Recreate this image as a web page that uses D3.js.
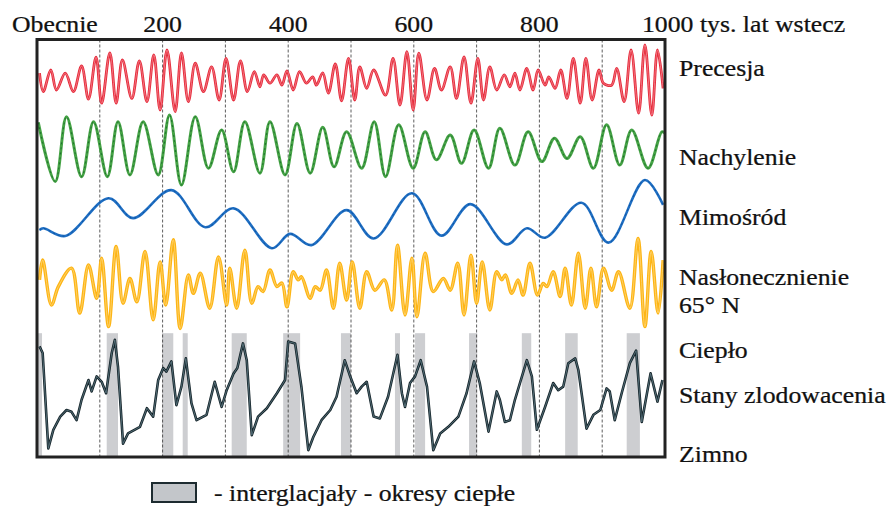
<!DOCTYPE html>
<html>
<head>
<meta charset="utf-8">
<script src="https://cdn.jsdelivr.net/npm/d3@7"></script>
<style>
  body { margin: 0; background: #fff; }
  svg text { font-family: "Liberation Serif", "Times New Roman", serif; fill: #111; stroke: #111; stroke-width: 0.25px; }
</style>
</head>
<body>
<div id="chart"></div>
<script>
// [tys. lat wstecz, wartość względna]
var precesja = [[4,0.22],[10,-0.24],[22,0.30],[31,-0.20],[45,0.22],[58,-0.24],[71,0.40],[82,-0.43],[94,0.62],[103,-0.53],
  [116,0.73],[126,-0.53],[136,0.55],[151,-0.41],[163,0.53],[175,-0.49],[186,0.68],[196,-0.70],[207,0.80],[220,-0.74],
  [230,0.73],[241,-0.49],[252,0.47],[265,-0.24],[278,0.38],[290,-0.45],[301,0.59],[313,-0.45],[324,0.53],[335,-0.24],
  [346,0.26],[355,-0.12],[361,0.18],[371,-0.03],[382,0.18],[390,-0.08],[398,0.28],[408,-0.20],[418,0.26],[429,-0.03],
  [439,0.13],[445,-0.08],[455,0.23],[464,-0.28],[475,0.45],[485,-0.47],[496,0.59],[506,-0.45],[514,0.38],[525,-0.16],
  [536,0.30],[555,-0.33],[567,0.59],[578,-0.58],[589,0.76],[599,-0.70],[608,0.72],[621,-0.45],[633,0.34],[644,-0.20],
  [658,0.38],[668,-0.41],[680,0.63],[691,-0.53],[702,0.59],[711,-0.45],[721,0.38],[732,-0.20],[744,0.18],[753,-0.12],
  [761,0.22],[769,-0.20],[780,0.34],[790,-0.20],[798,0.30],[809,-0.08],[815,0.13],[825,-0.16],[834,0.30],[844,-0.41],
  [854,0.59],[865,-0.53],[874,0.59],[884,-0.45],[895,0.30],[902,-0.03],[915,-0.08],[923,0.34],[935,-0.49],[946,0.80],
  [958,-0.78],[968,0.93],[979,-0.83],[988,0.80],[997,-0.16]];

var nachylenie = [[2,0.76],[29,-0.93],[47,0.92],[71,-0.79],[90,0.78],[112,-0.79],[129,0.78],[148,-0.74],[169,0.78],
  [193,-0.74],[211,0.97],[230,-1.03],[252,0.92],[273,-0.55],[294,0.54],[313,-0.65],[331,0.78],[355,-0.69],[371,0.78],
  [395,-0.74],[414,0.73],[435,-0.69],[455,0.62],[473,-0.51],[493,0.49],[517,-0.55],[537,0.78],[555,-0.79],[576,0.69],
  [599,-0.55],[618,0.49],[636,-0.31],[658,0.40],[676,-0.41],[696,0.54],[719,-0.55],[737,0.59],[761,-0.46],[782,0.49],
  [804,-0.36],[824,0.31],[844,-0.27],[865,0.35],[886,-0.55],[907,0.69],[928,-0.46],[947,0.54],[973,-0.55],[995,0.49],
  [1000,0.45]];

var mimosrod = [[4,-0.43],[10,-0.38],[45,-0.60],[114,0.48],[153,-0.09],[214,0.71],[268,-0.35],[313,0.19],[374,-0.95],
  [403,-0.54],[437,-0.86],[493,0.14],[536,-0.67],[597,0.62],[644,-0.59],[690,0.31],[748,-0.84],[780,-0.38],[809,-0.65],
  [867,0.35],[910,-0.79],[968,1.00],[997,0.29]];

var naslonecznienie = [[4,0.07],[9,0.51],[23,-0.49],[34,-0.08],[55,0.33],[68,-0.67],[82,0.40],[95,-0.34],[103,0.55],
  [114,-0.97],[126,0.81],[137,-0.45],[148,0.10],[159,-0.42],[172,0.70],[185,-0.82],[196,0.47],[205,-0.49],[217,0.96],
  [228,-1.01],[241,0.18],[249,-0.23],[260,0.22],[275,-0.56],[289,0.58],[302,-0.49],[307,0.33],[318,-0.56],[331,0.73],
  [342,-0.45],[352,-0.08],[360,-0.19],[371,0.29],[382,-0.08],[390,0.00],[398,-0.53],[408,0.25],[416,0.07],[421,0.14],
  [435,-0.34],[443,-0.08],[451,-0.16],[461,0.29],[472,-0.56],[482,0.44],[493,-0.38],[502,0.47],[514,-0.56],[525,0.25],
  [538,-0.16],[553,0.07],[565,-0.60],[574,0.84],[586,-0.71],[597,0.55],[605,-0.75],[618,0.66],[631,-0.19],[647,0.10],
  [658,-0.16],[670,0.44],[680,-0.71],[691,0.62],[700,-0.45],[709,0.47],[721,-0.60],[732,0.25],[740,0.07],[746,0.18],
  [756,-0.23],[766,0.07],[774,-0.27],[785,0.44],[797,-0.27],[806,-0.01],[812,-0.08],[822,0.25],[833,-0.30],[841,0.33],
  [851,-0.49],[862,0.66],[873,-0.56],[882,0.33],[891,-0.53],[902,0.33],[915,-0.16],[926,0.25],[944,-0.56],[957,0.99],
  [968,-0.97],[978,0.70],[989,-0.67],[997,0.51]];

var zlodowacenia = [[4,0.81],[9,0.70],[18,-0.89],[26,-0.58],[37,-0.36],[47,-0.25],[55,-0.28],[63,-0.42],[71,-0.08],
  [82,0.25],[87,0.06],[95,0.31],[103,0.22],[110,0.03],[119,0.70],[124,0.92],[129,0.47],[137,-0.81],[145,-0.64],
  [164,-0.53],[175,-0.22],[185,-0.36],[193,0.25],[201,0.45],[206,0.39],[214,0.56],[222,-0.17],[230,0.14],[237,0.61],
  [246,-0.14],[254,-0.42],[270,-0.33],[283,0.22],[294,-0.20],[302,0.08],[313,0.36],[319,0.45],[328,0.86],[334,0.58],
  [342,-0.67],[352,-0.36],[366,-0.22],[382,0.03],[395,0.25],[400,0.89],[411,0.86],[421,0.14],[432,-0.92],[440,-0.70],
  [453,-0.42],[467,-0.25],[477,-0.03],[490,0.58],[498,0.33],[509,0.03],[517,0.14],[525,0.22],[536,-0.36],[546,-0.39],
  [559,-0.03],[574,0.67],[581,0.03],[586,-0.20],[594,0.20],[602,0.31],[611,0.58],[621,0.14],[631,-0.92],[642,-0.64],
  [655,-0.53],[671,-0.36],[684,0.03],[696,0.56],[705,0.20],[719,-0.61],[732,0.06],[737,-0.08],[745,-0.45],[753,-0.42],
  [761,-0.08],[780,0.58],[788,0.31],[796,-0.58],[809,-0.20],[822,0.20],[830,0.08],[838,0.14],[846,0.53],[857,0.61],
  [862,0.42],[875,-0.56],[886,-0.33],[897,-0.25],[907,0.11],[912,0.06],[920,-0.42],[931,0.03],[944,0.53],[954,0.74],
  [963,-0.45],[977,0.36],[988,-0.11],[996,0.25]];

// interglacjały [od, do] w tys. lat
var interglacjaly = [[0,8],[111,129],[199,217],[232,240],[310,334],[392,419],[484,500],[570,578],[602,618],
  [688,701],[772,787],[841,861],[939,960]];

var siatka = [100,200,300,400,500,600,700,800,900];
var etykietyOsi = [[0,"Obecnie"],[200,"200"],[400,"400"],[600,"600"],[800,"800"],[1000,"1000 tys. lat wstecz"]];
var nazwySerii = ["Precesja","Nachylenie","Mimośród","Nasłonecznienie","65° N","Ciepło","Stany zlodowacenia","Zimno"];
var legendaTekst = "- interglacjały - okresy ciepłe";

var width = 895, height = 507;
var svg = d3.select("#chart").append("svg").attr("width", width).attr("height", height);

var x = d3.scaleLinear().domain([0, 1000]).range([37, 665]);
var boxTop = 39.5, boxBottom = 457;

var bands = [
  { data: precesja, range: [122, 42], color: "#e62b3b", inner: "#f58790", w: 2.8, curve: d3.curveCatmullRom },
  { data: nachylenie, range: [184, 114], color: "#45a345", inner: "#17632a", w: 3, dash: "2,3", curve: d3.curveCatmullRom },
  { data: mimosrod, range: [250, 180], color: "#1f6fc4", inner: "#0d4e96", w: 2.6, dash: "2,3", curve: d3.curveCatmullRom },
  { data: naslonecznienie, range: [328, 238], color: "#fdb515", inner: "#ffd77a", w: 3.4, curve: d3.curveCatmullRom },
  { data: zlodowacenia, range: [455, 335], color: "#15242a", inner: "#5f7c87", w: 2.6, curve: d3.curveLinear }
];
bands.forEach(function(b) { b.y = d3.scaleLinear().domain([-1, 1]).range(b.range); });

svg.append("clipPath").attr("id", "clip")
  .append("rect").attr("x", x(0)).attr("y", boxTop).attr("width", x(1000) - x(0)).attr("height", boxBottom - boxTop);

var plot = svg.append("g").attr("clip-path", "url(#clip)");

// szare pasy interglacjałów
var gy = bands[4].y;
plot.selectAll("rect.ig")
  .data(interglacjaly)
  .enter()
  .append("rect")
  .attr("class", "ig")
  .attr("x", function(d) { return x(d[0]); })
  .attr("width", function(d) { return x(d[1]) - x(d[0]); })
  .attr("y", gy(1.03))
  .attr("height", boxBottom - gy(1.03))
  .attr("fill", "#cdced1");

// pionowe przerywane linie
plot.selectAll("line.grid")
  .data(siatka)
  .enter()
  .append("line")
  .attr("x1", x).attr("x2", x)
  .attr("y1", boxTop).attr("y2", boxBottom)
  .attr("stroke", "#333")
  .attr("stroke-width", 0.8)
  .attr("stroke-dasharray", "3,2");

bands.forEach(function(b) {
  var line = d3.line()
    .x(function(d) { return x(d[0]); })
    .y(function(d) { return b.y(d[1]); })
    .curve(b.curve);
  plot.append("path")
    .datum(b.data)
    .attr("d", line)
    .attr("fill", "none")
    .attr("stroke", b.color)
    .attr("stroke-width", b.w)
    .attr("stroke-linejoin", "round");
  plot.append("path")
    .datum(b.data)
    .attr("d", line)
    .attr("fill", "none")
    .attr("stroke", b.inner)
    .attr("stroke-width", 0.8)
    .attr("stroke-dasharray", b.dash || null);
});

// ramka
svg.append("rect")
  .attr("x", x(0)).attr("y", boxTop)
  .attr("width", x(1000) - x(0)).attr("height", boxBottom - boxTop)
  .attr("fill", "none")
  .attr("stroke", "#222")
  .attr("stroke-width", 3);

function label(px, py, txt, anchor) {
  svg.append("g")
    .attr("transform", "translate(" + px + "," + py + ") scale(1.12,1)")
    .append("text")
    .attr("text-anchor", anchor || "start")
    .style("font-size", "23px")
    .text(txt);
}

// etykiety osi czasu
etykietyOsi.forEach(function(d, i) {
  if (i === 0) label(x(d[0]) - 25, 32, d[1]);
  else if (i === etykietyOsi.length - 1) label(x(d[0]) - 23, 32, d[1]);
  else label(x(d[0]), 32, d[1], "middle");
});

// nazwy serii po prawej
var nameY = [76, 165, 225, 285, 313, 358, 403, 462];
nazwySerii.forEach(function(n, i) { label(679, nameY[i], n); });

// legenda
svg.append("rect")
  .attr("x", 152).attr("y", 483)
  .attr("width", 44).attr("height", 19)
  .attr("fill", "#c3c6ca")
  .attr("stroke", "#1d2b30")
  .attr("stroke-width", 2);
label(214, 501, legendaTekst);
</script>
</body>
</html>
